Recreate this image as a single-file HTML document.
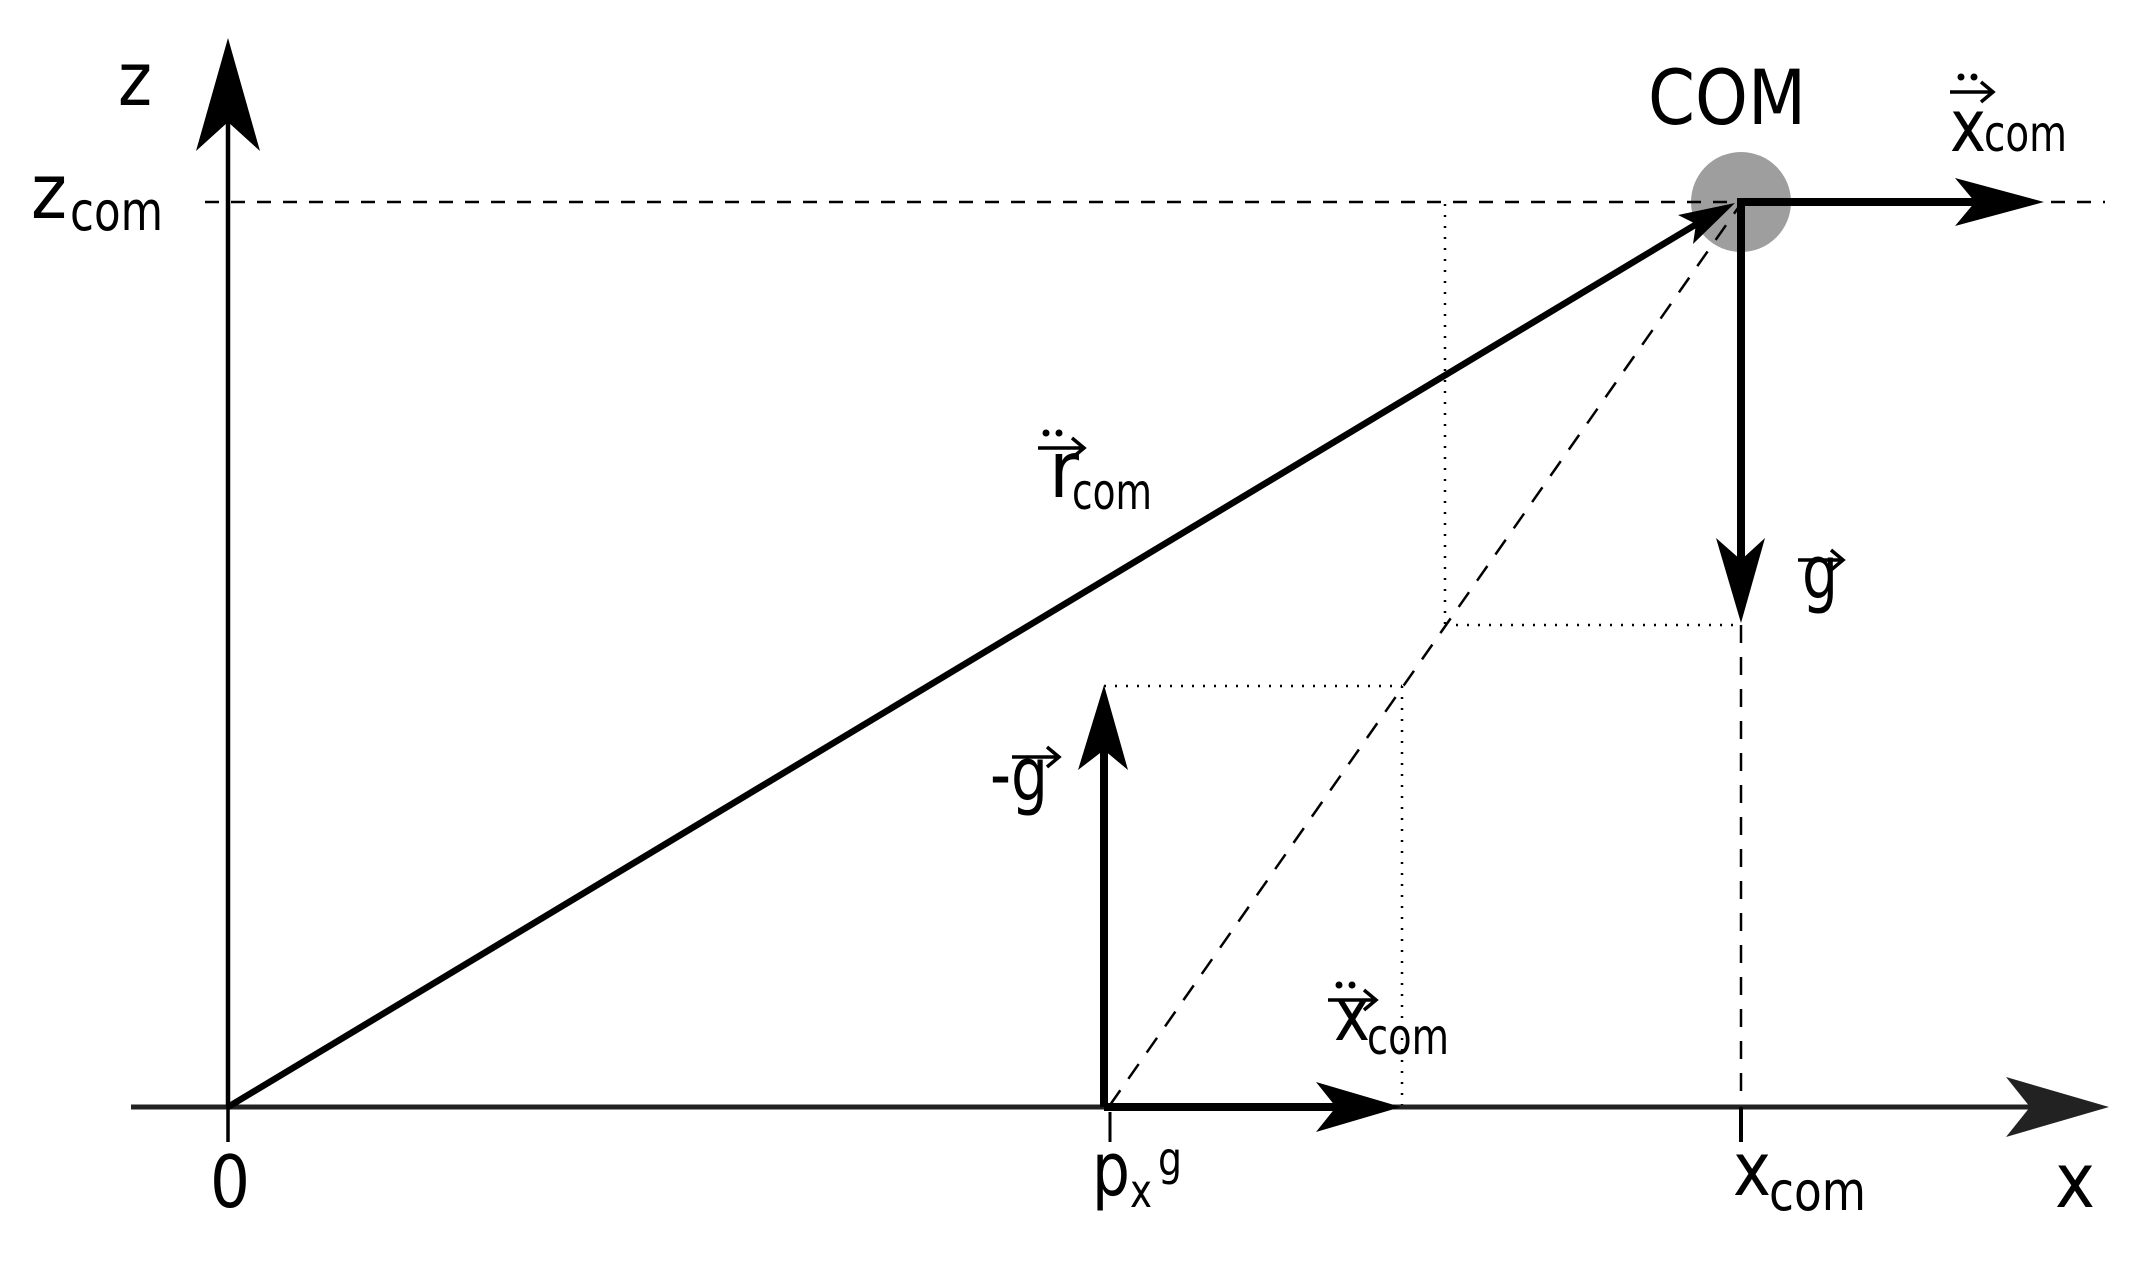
<!DOCTYPE html>
<html><head><meta charset="utf-8"><style>html,body{margin:0;padding:0;background:#fff;}svg{display:block}</style></head>
<body>
<svg width="2149" height="1261" viewBox="0 0 2149 1261" xmlns="http://www.w3.org/2000/svg" font-family="DejaVu Sans, Liberation Sans, sans-serif">
<rect width="2149" height="1261" fill="#fff"/>
<circle cx="1741" cy="202" r="50" fill="#9e9e9e"/>
<line x1="205" y1="202" x2="2105" y2="202" stroke="#000" stroke-width="2.5" stroke-dasharray="14,12"/>
<line x1="1445" y1="204" x2="1445" y2="625" stroke="#000" stroke-width="2.5" stroke-dasharray="2,9"/>
<line x1="1445" y1="625" x2="1741" y2="625" stroke="#000" stroke-width="2.5" stroke-dasharray="2,9"/>
<line x1="1104" y1="686" x2="1402" y2="686" stroke="#000" stroke-width="2.5" stroke-dasharray="2,9"/>
<line x1="1402" y1="686" x2="1402" y2="1105" stroke="#000" stroke-width="2.5" stroke-dasharray="2,9"/>
<line x1="1741" y1="625" x2="1741" y2="1105" stroke="#000" stroke-width="2.5" stroke-dasharray="18,14"/>
<line x1="1110" y1="1105" x2="1738" y2="208" stroke="#000" stroke-width="2.5" stroke-dasharray="18,14"/>
<line x1="131" y1="1107" x2="2040" y2="1107" stroke="#222" stroke-width="5"/>
<polygon points="2109,1107 2006,1077 2030,1107 2006,1137" fill="#222"/>
<line x1="228" y1="1107" x2="228" y2="1142" stroke="#000" stroke-width="3.5"/>
<line x1="1110" y1="1112" x2="1110" y2="1142" stroke="#000" stroke-width="3"/>
<line x1="1741" y1="1107" x2="1741" y2="1142" stroke="#000" stroke-width="4"/>
<line x1="228" y1="1107" x2="228" y2="110" stroke="#000" stroke-width="4.5"/>
<polygon points="228,38 260,151 228,122 196,151" fill="#000"/>
<line x1="228" y1="1107" x2="1700" y2="222" stroke="#000" stroke-width="6.5"/>
<polygon points="1735,203 1678,215 1696,224 1693,244" fill="#000"/>
<line x1="1104" y1="1107" x2="1104" y2="740" stroke="#000" stroke-width="8"/>
<polygon points="1104,685 1128,770 1104,750 1078,770" fill="#000"/>
<line x1="1104" y1="1107" x2="1340" y2="1107" stroke="#000" stroke-width="8"/>
<polygon points="1401,1107 1316,1082 1336,1107 1316,1132" fill="#000"/>
<line x1="1737" y1="202" x2="1990" y2="202" stroke="#000" stroke-width="8"/>
<polygon points="2044,202 1955,178 1975,202 1955,226" fill="#000"/>
<line x1="1741" y1="198" x2="1741" y2="570" stroke="#000" stroke-width="8"/>
<polygon points="1741,623 1765,538 1741,560 1716,538" fill="#000"/>

<g fill="#000">
<text x="118" y="105" font-size="74" textLength="34" lengthAdjust="spacingAndGlyphs">z</text>
<text x="31" y="218" font-size="76" textLength="36" lengthAdjust="spacingAndGlyphs">z</text>
<text x="70" y="230" font-size="54" textLength="93" lengthAdjust="spacingAndGlyphs">com</text>
<text x="1648" y="124" font-size="76" textLength="158" lengthAdjust="spacingAndGlyphs">COM</text>
<text x="1950" y="151" font-size="72" textLength="36" lengthAdjust="spacingAndGlyphs">x</text>
<text x="1984" y="151" font-size="50" textLength="83" lengthAdjust="spacingAndGlyphs">com</text>
<text x="1802" y="598" font-size="74" textLength="36" lengthAdjust="spacingAndGlyphs">g</text>
<text x="1049" y="497" font-size="78" textLength="30" lengthAdjust="spacingAndGlyphs">r</text>
<text x="1072" y="509" font-size="50" textLength="80" lengthAdjust="spacingAndGlyphs">com</text>
<text x="990" y="800" font-size="74" textLength="58" lengthAdjust="spacingAndGlyphs">-g</text>
<text x="1334" y="1040" font-size="74" textLength="36" lengthAdjust="spacingAndGlyphs">x</text>
<text x="1367" y="1054" font-size="50" textLength="82" lengthAdjust="spacingAndGlyphs">com</text>
<text x="210" y="1207" font-size="72" textLength="40" lengthAdjust="spacingAndGlyphs">0</text>
<text x="1092" y="1195" font-size="74" textLength="38" lengthAdjust="spacingAndGlyphs">p</text>
<text x="1130" y="1207" font-size="46" textLength="22" lengthAdjust="spacingAndGlyphs">x</text>
<text x="1158" y="1175" font-size="46" textLength="24" lengthAdjust="spacingAndGlyphs">g</text>
<text x="1733" y="1195" font-size="74" textLength="38" lengthAdjust="spacingAndGlyphs">x</text>
<text x="1769" y="1210" font-size="54" textLength="97" lengthAdjust="spacingAndGlyphs">com</text>
<text x="2055" y="1207" font-size="76" textLength="40" lengthAdjust="spacingAndGlyphs">x</text>
</g>
<g stroke="#000" stroke-width="3.5" fill="none">
<line x1="1950" y1="92" x2="1992" y2="92"/><polyline points="1981,82 1993,92 1981,102"/>
<line x1="1798" y1="560" x2="1842" y2="560"/><polyline points="1831,550 1843,560 1831,570"/>
<line x1="1038" y1="448" x2="1083" y2="448"/><polyline points="1072,438 1084,448 1072,458"/>
<line x1="1012" y1="757" x2="1058" y2="757"/><polyline points="1047,747 1059,757 1047,767"/>
<line x1="1328" y1="1000" x2="1375" y2="1000"/><polyline points="1364,990 1376,1000 1364,1010"/>
</g>
<g fill="#000">
<circle cx="1961" cy="77" r="3.5"/><circle cx="1974" cy="77" r="3.5"/>
<circle cx="1046" cy="433" r="3.5"/><circle cx="1059" cy="433" r="3.5"/>
<circle cx="1339" cy="985" r="3.5"/><circle cx="1352" cy="985" r="3.5"/>
</g>
</svg>
</body></html>
